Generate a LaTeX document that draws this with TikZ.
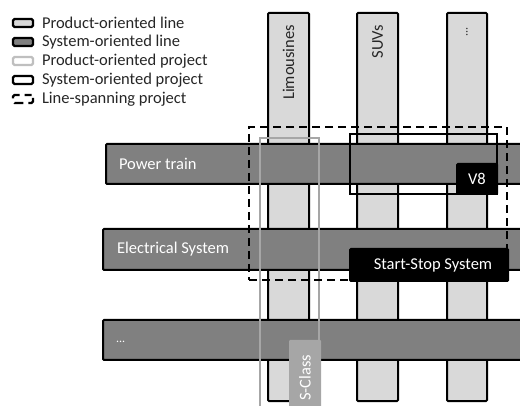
\documentclass[tikz,border=0pt]{standalone}
\usepackage{fontspec}
\setmainfont{Carlito}
\definecolor{colfill}{HTML}{D9D9D9}
\definecolor{barfill}{HTML}{808080}
\definecolor{projgray}{HTML}{A6A6A6}
\definecolor{legendgray}{HTML}{BFBFBF}
\begin{document}
\begin{tikzpicture}[x=1pt,y=-1pt,
  every node/.style={font=\fontsize{16.5}{19}\selectfont, inner sep=0pt, outer sep=0pt},
  colbox/.style={draw=black, line width=2pt, fill=colfill, minimum width=41pt, minimum height=388pt, rounded corners=1pt},
  barbox/.style={draw=black, line width=2pt, fill=barfill, minimum height=40pt, rounded corners=1pt},
  coltext/.style={rotate=90, anchor=east, text=black!85},
  bartext/.style={anchor=west, text=white},
  legicon/.style={line width=2.2pt, minimum width=20pt, minimum height=8pt, rounded corners=1.5pt},
  legtext/.style={anchor=west, text=black!85},
  sysproj/.style={draw=black, line width=2pt},
  prodproj/.style={draw=projgray, line width=2pt},
  spanproj/.style={draw=black, line width=2pt, dash pattern=on 8pt off 5pt},
  labelbox/.style={fill=black, text=white, rounded corners=1.5pt}
]
\useasboundingbox (0,0) rectangle (520,406);

% legend
\node[legicon, draw=black, fill=colfill] (l1) at (23,23) {};
\node[legtext] (t1) at (42,23) {Product-oriented line};
\node[legicon, draw=black, fill=barfill] (l2) at (23,42) {};
\node[legtext] (t2) at (42,42) {System-oriented line};
\node[legicon, draw=legendgray, fill=white] (l3) at (23,61) {};
\node[legtext] (t3) at (42,61) {Product-oriented project};
\node[legicon, draw=black, fill=white] (l4) at (23,80) {};
\node[legtext] (t4) at (42,80) {System-oriented project};
\node[legicon, draw=black, dash pattern=on 9pt off 5pt, dash phase=2pt] (l5) at (23,99) {};
\node[legtext] (t5) at (42,99) {Line-spanning project};

% columns
\node[colbox] (c1) at (288.5,207) {};
\node[colbox] (c2) at (377.5,207) {};
\node[colbox, minimum width=40pt] (c3) at (467,207) {};
\node[coltext] (c1t) at (288.5,25) {Limousines};
\node[coltext] (c2t) at (377.5,25) {SUVs};
\node[coltext, font=\fontsize{12}{14}\selectfont] (c3t) at (467,27) {...};

% bars
\node[barbox, minimum width=430pt, anchor=west] (b1) at (106,164) {};
\node[barbox, minimum width=433pt, minimum height=41pt, anchor=west] (b2) at (103,249.5) {};
\node[barbox, minimum width=433pt, anchor=west] (b3) at (103,340) {};
\node[bartext] (b1t) at (119,164) {Power train};
\node[bartext] (b2t) at (117,249.5) {Electrical System};
\node[bartext, font=\fontsize{12}{14}\selectfont] (b3t) at (116,342) {...};

% product-oriented project (S-Class)
\node[prodproj, minimum width=59pt, minimum height=290pt, anchor=north west] (sproj) at (260,138) {};
\node[fill=projgray, minimum width=32pt, minimum height=80pt, anchor=north west, rounded corners=1pt] (slab) at (289,340) {};
\node[rotate=90, text=white] (slabt) at (305,378) {S-Class};

% system-oriented project (V8)
\node[sysproj, minimum width=147pt, minimum height=60pt, anchor=north west] (vproj) at (350,134) {};
\node[labelbox, minimum width=42pt, minimum height=32pt] (v8) at (477,179) {V8};

% line-spanning project (Start-Stop)
\node[spanproj, minimum width=258pt, minimum height=153pt, anchor=north west] (ssproj) at (249,127) {};
\node[labelbox, minimum width=160pt, minimum height=34pt] (ss) at (429,265) {};
\node[text=white] (sst) at (433,265) {Start-Stop System};
\end{tikzpicture}
\end{document}
